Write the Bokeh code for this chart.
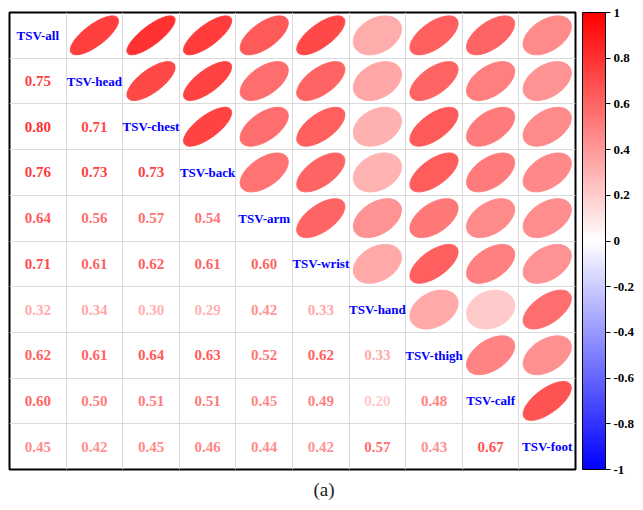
import numpy as np
from bokeh.plotting import figure
from bokeh.models import (ColumnDataSource, LinearColorMapper, ColorBar, FixedTicker,
                          CustomJSTickFormatter, Range1d, Title)
from bokeh.transform import transform
from bokeh.core.properties import value
from bokeh.embed import file_html
from bokeh.resources import INLINE

variables = ["TSV-all", "TSV-head", "TSV-chest", "TSV-back", "TSV-arm",
             "TSV-wrist", "TSV-hand", "TSV-thigh", "TSV-calf", "TSV-foot"]

# lower-triangle correlations, row by row
row_head = [0.75]
row_chest = [0.80, 0.71]
row_back = [0.76, 0.73, 0.73]
row_arm = [0.64, 0.56, 0.57, 0.54]
row_wrist = [0.71, 0.61, 0.62, 0.61, 0.60]
row_hand = [0.32, 0.34, 0.30, 0.29, 0.42, 0.33]
row_thigh = [0.62, 0.61, 0.64, 0.63, 0.52, 0.62, 0.33]
row_calf = [0.60, 0.50, 0.51, 0.51, 0.45, 0.49, 0.20, 0.48]
row_foot = [0.45, 0.42, 0.45, 0.46, 0.44, 0.42, 0.57, 0.43, 0.67]
lower_rows = [row_head, row_chest, row_back, row_arm, row_wrist,
              row_hand, row_thigh, row_calf, row_foot]

colorbar_ticks = [-1, -0.8, -0.6, -0.4, -0.2, 0, 0.2, 0.4, 0.6, 0.8, 1]
caption = "(a)"

n = len(variables)
M = np.eye(n)
for i, row in enumerate(lower_rows, start=1):
    for j, v in enumerate(row):
        M[i, j] = v
        M[j, i] = v


def rgb_hex(v):
    if v >= 0:
        c = int(round(255 * (1 - v)))
        return "#%02x%02x%02x" % (255, c, c)
    c = int(round(255 * (1 + v)))
    return "#%02x%02x%02x" % (c, c, 255)


palette = [rgb_hex(-1 + 2 * k / 199) for k in range(200)]
mapper = LinearColorMapper(palette=palette, low=-1, high=1)

FONT = "Liberation Serif"

p = figure(width=643, height=510, output_backend="svg", toolbar_location=None,
           x_range=Range1d(-0.5, n - 0.5), y_range=Range1d(n - 0.5, -0.5),
           min_border_left=9, min_border_top=12, min_border_bottom=41,
           min_border_right=68)
p.xaxis.visible = False
p.yaxis.visible = False
p.xgrid.ticker = FixedTicker(ticks=[k + 0.5 for k in range(n - 1)])
p.ygrid.ticker = FixedTicker(ticks=[k + 0.5 for k in range(n - 1)])
p.xgrid.grid_line_color = "#dadada"
p.ygrid.grid_line_color = "#dadada"
p.outline_line_color = "black"
p.outline_line_width = 2
p.background_fill_color = "white"
p.border_fill_color = "white"

# upper triangle: ellipses (corrplot style)
t = np.linspace(0, 2 * np.pi, 99)
xs, ys, vals = [], [], []
for i in range(n):
    for j in range(i + 1, n):
        r = M[i, j]
        d = np.arccos(r)
        xs.append(list(j + 0.425 * np.cos(t + d / 2)))
        ys.append(list(i - 0.425 * np.cos(t - d / 2)))
        vals.append(r)
ell_src = ColumnDataSource(dict(xs=xs, ys=ys, v=vals))
p.patches("xs", "ys", source=ell_src, fill_color=transform("v", mapper),
          line_color=transform("v", mapper), line_width=1)

# lower triangle: numbers
nx, ny, nv, nt = [], [], [], []
for i in range(n):
    for j in range(i):
        nx.append(j)
        ny.append(i)
        nv.append(M[i, j])
        nt.append("%.2f" % M[i, j])
num_src = ColumnDataSource(dict(x=nx, y=ny, v=nv, t=nt))
p.text("x", "y", text="t", source=num_src, text_color=transform("v", mapper),
       text_font=value(FONT), text_font_style="bold", text_font_size="15px",
       text_align="center", text_baseline="middle")

# diagonal labels
diag_src = ColumnDataSource(dict(x=list(range(n)), y=list(range(n)), t=variables))
p.text("x", "y", text="t", source=diag_src, text_color="#0000ff",
       text_font=value(FONT), text_font_style="bold", text_font_size="13px",
       text_align="center", text_baseline="middle")

cb = ColorBar(color_mapper=mapper, width=23, height=457, location=(7, 0),
              padding=0, margin=0,
              ticker=FixedTicker(ticks=colorbar_ticks),
              formatter=CustomJSTickFormatter(code="var s = (Math.round(tick*10)/10).toString(); return s;"),
              bar_line_color="black", bar_line_width=1,
              major_tick_line_color="black", major_tick_out=5, major_tick_in=0,
              major_label_text_font=FONT, major_label_text_font_style="bold",
              major_label_text_font_size="13px", major_label_text_color="black",
              label_standoff=3, background_fill_alpha=0, border_line_color=None)
p.add_layout(cb, "right")

p.add_layout(Title(text=caption, align="left", offset=304, text_font=FONT,
                   text_font_size="19px", text_font_style="normal",
                   text_color="#222222", standoff=14), "below")

open("out.html", "w").write(file_html(p, INLINE))
